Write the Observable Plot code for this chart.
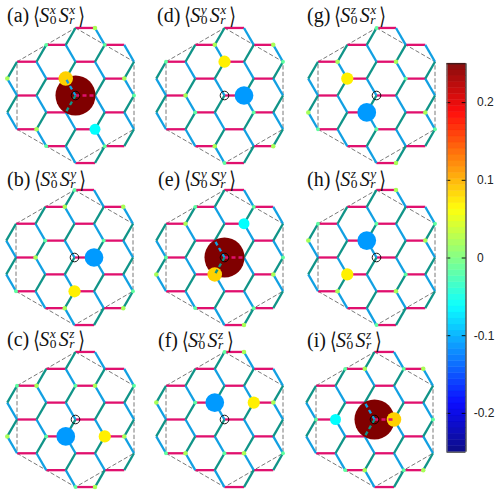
<!DOCTYPE html>
<html>
<head>
<meta charset="utf-8">
<script src="https://cdn.jsdelivr.net/npm/d3@7"></script>
<script src="https://cdn.jsdelivr.net/npm/@observablehq/plot@0.6"></script>
<style>
html,body{margin:0;padding:0;background:#fff;width:498px;height:492px;overflow:hidden}
#root{position:relative;width:498px;height:492px}
.panel{position:absolute}
.panel svg{display:block;overflow:visible;background:transparent}
.title{position:absolute;font-family:"Liberation Serif",serif;font-size:20px;line-height:24px;color:#111;white-space:nowrap}
.title i{font-style:italic}
.br{font-family:"DejaVu Sans",sans-serif;font-size:17px;line-height:10px;display:inline-block;width:6px;transform:scaleY(1.35);transform-origin:50% 62%;}
.lead{margin-left:-1px}
.st{display:inline-block;position:relative;width:9.5px;height:0}
.st span{position:absolute;left:0.5px;font-size:13.5px;line-height:10px}
.st .up{bottom:7.35px;font-style:italic}
.st .dn{bottom:-3.45px}
</style>
</head>
<body>
<div id="root"></div>
<script>
// ---- lattice: A-sublattice sites [column, row] ----
const sitesA = [[-2,-2],[-2,0],[-2,2],[-1,-3],[-1,-1],[-1,1],[-1,3],[0,-4],[0,-2],[0,0],[0,2],[0,4],[1,-3],[1,-1],[1,1],[1,3],[2,-2],[2,0],[2,2]];
const extraB = [[-3,-1],[-3,1]];
const boundary = [[0,-4],[2,-2],[2,2],[0,4],[-2,2],[-2,-2],[0,-4]];

// ---- correlations: [sublattice, column, row, value] ----
const big = 0.25, gold = 0.085, yellow = 0.07, cyan = -0.062, blue = -0.112, weakA = -0.016, weakB = 0.02;
const panelA = [["A",0,0,big],["B",-1,-1,gold],["B",0,2,cyan],["B",0,-4,weakB],["A",-1,-3,weakA],["A",1,-3,weakA],["B",-3,-1,weakB],["B",1,-1,weakB],["A",2,0,weakA],["B",-2,2,weakB],["A",-1,3,weakA],["A",1,3,weakA]];
const panelB = [["B",0,0,blue],["A",0,2,yellow],["A",0,-4,weakA],["B",-1,-3,weakB],["B",1,-3,weakB],["A",-1,-1,weakA],["A",1,-1,weakA],["B",-2,0,weakB],["A",-2,2,weakA],["A",2,2,weakA],["B",-1,3,weakB],["B",1,3,weakB]];
const panelC = [["B",-1,1,blue],["A",1,1,yellow],["A",-2,-2,weakA],["B",-2,-2,weakB],["A",0,-2,weakA],["B",0,-2,weakB],["A",2,-2,weakA],["B",-3,1,weakB],["A",-1,1,weakA],["B",1,1,weakB],["A",0,4,weakA],["B",0,4,weakB]];
const panelD = [["B",0,0,blue],["A",0,-2,yellow],["B",-1,-3,weakB],["B",1,-3,weakB],["A",-2,-2,weakA],["A",2,-2,weakA],["B",-2,0,weakB],["A",-1,1,weakA],["A",1,1,weakA],["B",-1,3,weakB],["B",1,3,weakB],["A",0,4,weakA]];
const panelE = [["A",0,0,big],["B",-1,1,gold],["B",0,-2,cyan],["A",-1,-3,weakA],["A",1,-3,weakA],["B",-2,-2,weakB],["A",-2,0,weakA],["A",2,0,weakA],["B",-3,1,weakB],["B",1,1,weakB],["A",-1,3,weakA],["A",1,3,weakA],["B",0,4,weakB]];
const panelF = [["B",-1,-1,blue],["A",1,-1,yellow],["A",0,-4,weakA],["B",0,-4,weakB],["B",-3,-1,weakB],["A",-1,-1,weakA],["B",1,-1,weakB],["A",-2,2,weakA],["B",-2,2,weakB],["A",0,2,weakA],["B",0,2,weakB],["A",2,2,weakA]];
const panelG = [["A",-1,-1,yellow],["B",-1,1,blue],["A",0,-4,weakA],["B",-2,-2,weakB],["B",0,-2,weakB],["A",1,-1,weakA],["B",-3,1,weakB],["B",1,1,weakB],["A",-2,2,weakA],["A",0,2,weakA],["A",2,2,weakA],["B",0,4,weakB]];
const panelH = [["B",-1,-1,blue],["A",-1,1,yellow],["B",0,-4,weakB],["A",0,-2,weakA],["A",2,-2,weakA],["A",-2,-2,weakA],["B",-3,-1,weakB],["B",1,-1,weakB],["A",1,1,weakA],["B",-2,2,weakB],["B",0,2,weakB],["A",0,4,weakA]];
const panelI = [["A",0,0,big],["B",0,0,gold],["B",-2,0,cyan],["A",-1,-3,weakA],["B",-1,-3,weakB],["A",1,-3,weakA],["B",1,-3,weakB],["A",-2,0,weakA],["A",2,0,weakA],["A",-1,3,weakA],["B",-1,3,weakB],["A",1,3,weakA],["B",1,3,weakB]];

// ---- panel labels ----
const letters = ["a","b","c","d","e","f","g","h","i"];
const firstIdx = ["x","x","x","y","y","y","z","z","z"];
const secondIdx = ["x","y","z","x","y","z","x","y","z"];
const panelData = [panelA,panelB,panelC,panelD,panelE,panelF,panelG,panelH,panelI];
const dashedCentre = [true,false,false,false,true,false,false,false,true];

// page layout (pixels)
const centreX = [74.5,74,75,224,224,224,375.5,376,374];
const centreY = [95,257,419,95,257,419,95,257,419];
const titleX = [7,7,7,157,158,158,307,307,307];
const titleY = [3,167,327,3,167,328,3,167,328];

// ---- colour bar ----
const barTicks = [0.2,0.1,0,-0.1,-0.2];
const barLevels = d3.range(64).map(i => -0.25 + i/64*0.5);
const colorScale = {
  type:"linear",
  domain:[-0.25,-0.1875,-0.0625,0.0625,0.1875,0.25],
  range:["#000080","#0000ff","#00ffff","#ffff00","#ff0000","#800000"],
  clamp:true
};

const X = (k,c) => 1.5*c + (k==="B"?1:0);
const Y = r => r*Math.sqrt(3)/2;

const hasB = new Set([...sitesA.filter(d=>d[0]<2),...extraB].map(d=>d.join()));
const pink = [], blueBonds = [], teal = [];
for (const [c,r] of sitesA) {
  const ax = X("A",c), ay = Y(r);
  if (hasB.has([c,r].join())) pink.push({x1:ax,y1:ay,x2:X("B",c),y2:Y(r),o:c===0&&r===0});
  if (hasB.has([c-1,r-1].join())) blueBonds.push({x1:ax,y1:ay,x2:X("B",c-1),y2:Y(r-1),o:c===0&&r===0});
  if (hasB.has([c-1,r+1].join())) teal.push({x1:ax,y1:ay,x2:X("B",c-1),y2:Y(r+1),o:c===0&&r===0});
}
const PINK="#e0106e", BLUE="#12a0e2", TEAL="#109488";
const bondWidth = 2.3;
const link = (data,stroke,extra={}) => Plot.link(data,{x1:"x1",y1:"y1",x2:"x2",y2:"y2",stroke,strokeWidth:bondWidth,...extra});

const root = document.getElementById("root");

panelData.forEach((data,i) => {
  const w = 150, h = 164;
  const unit = 19.5;
  const marks = [
    Plot.line(boundary,{x:d=>X("A",d[0]),y:d=>Y(d[1]),stroke:"#555",strokeWidth:0.8,strokeDasharray:"3.5,3"}),
    link(pink,PINK), link(blueBonds,BLUE), link(teal,TEAL),
    Plot.dot(data,{x:d=>X(d[0],d[1]),y:d=>Y(d[2]),r:d=>Math.abs(d[3]),fill:d=>d[3]})
  ];
  if (dashedCentre[i]) {
    const dash = {strokeDasharray:"4,3"};
    marks.push(link(pink.filter(d=>d.o),PINK,dash),link(blueBonds.filter(d=>d.o),BLUE,dash),link(teal.filter(d=>d.o),TEAL,dash));
  }
  marks.push(Plot.dot([[0,0]],{x:d=>d[0],y:d=>d[1],r:4.3,stroke:"#000",strokeWidth:0.9,fill:"none"}));
  const svg = Plot.plot({
    width:w,height:h,margin:0,
    style:{background:"transparent",overflow:"visible"},
    x:{domain:[-w/2/unit,w/2/unit],axis:null},
    y:{domain:[-h/2/unit,h/2/unit],reverse:true,axis:null},
    r:{type:"linear",domain:[0,0.25],range:[0.7,20]},
    color:colorScale,
    marks
  });
  const box = document.createElement("div");
  box.className = "panel";
  box.style.left = (centreX[i]-w/2)+"px";
  box.style.top = (centreY[i]-h/2)+"px";
  box.appendChild(svg);
  root.appendChild(box);

  const t = document.createElement("div");
  t.className = "title";
  t.style.left = titleX[i]+"px";
  t.style.top = titleY[i]+"px";
  t.innerHTML = `(${letters[i]}) <span class="br lead">\u27E8</span><i>S</i><span class="st"><span class="up">${firstIdx[i]}</span><span class="dn">0</span></span><i>S</i><span class="st"><span class="up">${secondIdx[i]}</span><span class="dn" style="font-style:italic">r</span></span><span class="br">\u27E9</span>`;
  root.appendChild(t);
});

// colour bar
const bar = Plot.plot({
  width:58,height:405,marginLeft:6.5,marginRight:32.5,marginTop:8.3,marginBottom:8.3,
  style:{background:"transparent",overflow:"visible"},
  x:{domain:[0,1],axis:null},
  y:{domain:[-0.25,0.25],axis:null},
  color:colorScale,
  marks:[
    Plot.rect(barLevels,{x1:0,x2:1,y1:d=>d,y2:d=>d+0.5/64+0.0005,fill:d=>d+0.25/64,fillOpacity:0.95}),
    Plot.ruleY(barTicks,{x1:0,x2:0.2,stroke:"#000",strokeWidth:0.9}),
    Plot.ruleY(barTicks,{x1:0.8,x2:1,stroke:"#000",strokeWidth:0.9}),
    Plot.ruleX([0],{stroke:"#777",strokeWidth:1.2}),
    Plot.ruleX([1],{stroke:"#000",strokeWidth:1}),
    Plot.ruleY([-0.25,0.25],{stroke:"#222",strokeWidth:1}),
    Plot.text(barTicks,{x:1,y:d=>d,text:d=>String(d),textAnchor:"start",fontSize:12,fontFamily:"Liberation Sans",fill:"#222"})
  ]
});
// offset the labels of negative ticks by the width of their minus sign
bar.querySelectorAll("text").forEach(n => {
  const neg = n.textContent.startsWith("-");
  n.setAttribute("dx", neg ? 7.7 : 11);
});
const barBox = document.createElement("div");
barBox.className = "panel";
barBox.style.left = "440px";
barBox.style.top = "55px";
barBox.appendChild(bar);
root.appendChild(barBox);
</script>
</body>
</html>
